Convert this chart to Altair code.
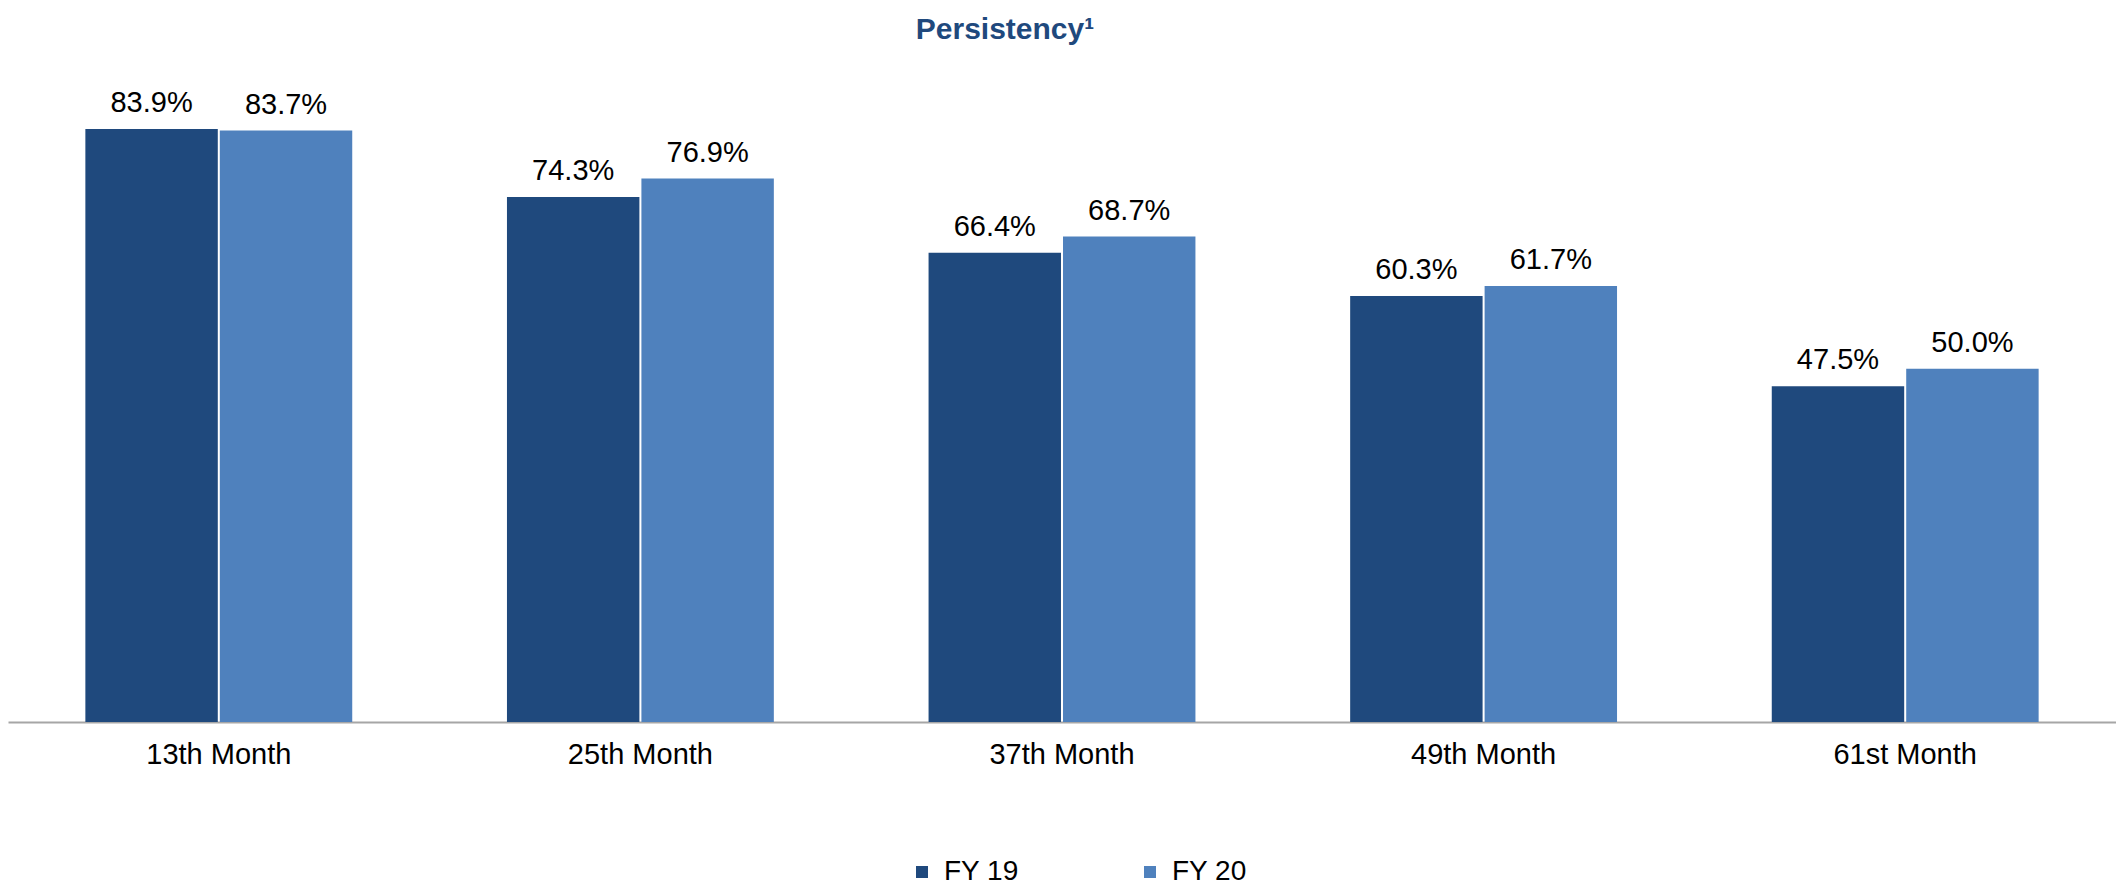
import altair as alt
import pandas as pd

categories = ["13th Month", "25th Month", "37th Month", "49th Month", "61st Month"]
series = ["FY 19", "FY 20"]
fy19 = [83.9, 74.3, 66.4, 60.3, 47.5]
fy20 = [83.7, 76.9, 68.7, 61.7, 50.0]
colors = ["#1F497D", "#4F81BD"]

rows = []
for c, a, b in zip(categories, fy19, fy20):
    rows.append({"category": c, "series": series[0], "value": a})
    rows.append({"category": c, "series": series[1], "value": b})
df = pd.DataFrame(rows)

FONT = "Liberation Sans"

base = alt.Chart(df).transform_calculate(
    label="format(datum.value, '.1f') + '%'"
).encode(
    x=alt.X(
        "category:N",
        sort=categories,
        scale=alt.Scale(paddingInner=0.367, paddingOuter=0.1835),
        axis=alt.Axis(
            title=None, labelAngle=0, ticks=False, labelPadding=18,
            labelFontSize=29, labelColor="black", labelFont=FONT,
            domainColor="#A6A6A6", domainWidth=2, grid=False,
        ),
    ),
    xOffset=alt.XOffset("series:N", sort=series, scale=alt.Scale(paddingInner=0.015)),
    y=alt.Y("value:Q", scale=alt.Scale(domain=[0, 90]), axis=None),
)

bars = base.mark_bar().encode(
    color=alt.Color(
        "series:N",
        sort=series,
        scale=alt.Scale(domain=series, range=colors),
        legend=alt.Legend(
            title=None, orient="none", legendX=900, legendY=772,
            direction="horizontal", symbolType="square", symbolSize=144,
            symbolStrokeWidth=0, labelFontSize=28, labelFont=FONT,
            labelColor="black", columnPadding=117, labelOffset=8, padding=0,
        ),
    )
)

text = base.mark_text(
    baseline="alphabetic", dy=-17, fontSize=29, font=FONT, color="black"
).encode(text="label:N")

chart = alt.layer(bars, text).properties(
    width=2108,
    height=636,
    autosize=alt.AutoSizeParams(type="none"),
    padding={"left": 0, "top": 78, "right": 0, "bottom": 164},
    title=alt.Title(
        "Persistency\u00b9", fontSize=30, font=FONT, fontWeight="bold",
        color="#1F497D", offset=17, dx=-57, baseline="alphabetic", anchor="middle",
    ),
).configure_view(stroke=None)

chart.save("out.html", embed_options={"renderer": "svg", "actions": False})
